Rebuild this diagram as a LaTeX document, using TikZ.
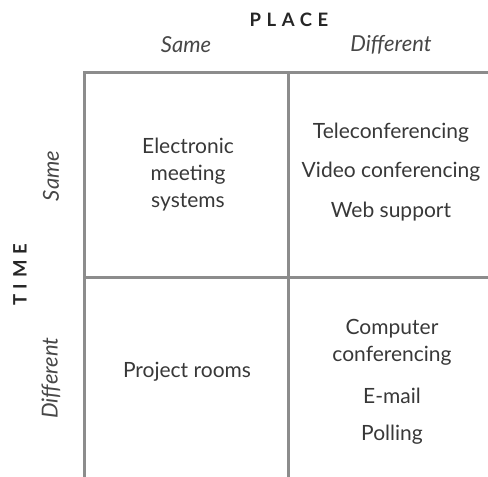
\documentclass[tikz,border=0pt]{standalone}
\usepackage{fontspec}
\setmainfont{Lato}
\newfontfamily\headfont[LetterSpace=30]{Lato}
\begin{document}
\begin{tikzpicture}[x=1pt,y=-1pt,
  grid/.style={draw=black!45,line width=3pt},
  item/.style={font=\fontsize{21}{27}\selectfont,align=center,inner sep=0pt,text=black!78},
  head/.style={font=\headfont\bfseries\fontsize{18.5}{20}\selectfont,inner sep=0pt,text=black!85},
  sub/.style={font=\itshape\fontsize{22}{24}\selectfont,inner sep=0pt,text=black!72}]
\useasboundingbox (0,0) rectangle (488,477);
% grid corners
\coordinate (tl) at (84.5,72);
\coordinate (tm) at (288,72);
\coordinate (tr) at (488,72);
\coordinate (ml) at (84.5,277);
\coordinate (mr) at (488,277);
\coordinate (bl) at (84.5,477);
\coordinate (bm) at (288,477);
\draw[grid] (bl) -- (tl) -- (tr);
\draw[grid] (tm) -- (bm);
\draw[grid] (ml) -- (mr);
% axis headings
\node[head] (place) at (289,20) {PLACE};
\node[sub] (psame) at (186,45) {Same};
\node[sub] (pdiff) at (391,45) {Different};
\node[head,rotate=90] (time) at (20,275) {TIME};
\node[sub,rotate=90] (tsame) at (51,176) {Same};
\node[sub,rotate=90] (tdiff) at (51,378) {Different};
% cells
\node[item] (ems) at (188,175) {Electronic\\meeting\\systems};
\node[item] (tele) at (391,133) {Teleconferencing};
\node[item] (video) at (391,172) {Video conferencing};
\node[item] (web) at (391,212) {Web support};
\node[item] (proj) at (187,372) {Project rooms};
\node[item] (comp) at (392,342) {Computer\\conferencing};
\node[item] (mail) at (392,396) {E-mail};
\node[item] (poll) at (392,435) {Polling};
\end{tikzpicture}
\end{document}
